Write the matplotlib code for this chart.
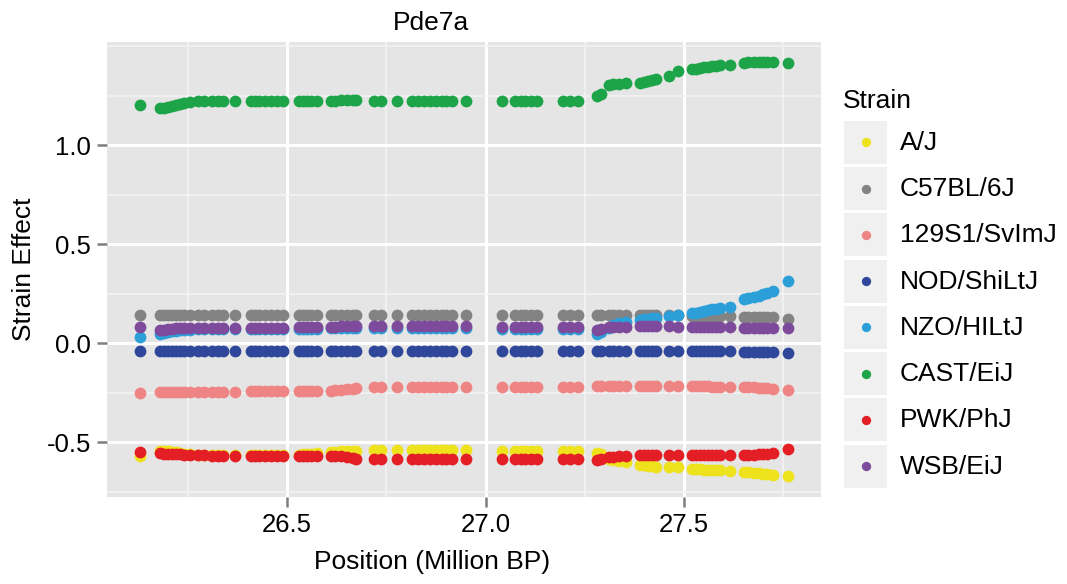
# Pde7a strain effects along the chromosome (ggplot-like look)

import matplotlib
matplotlib.use('Agg')
import matplotlib.pyplot as plt
from matplotlib.ticker import MultipleLocator, FixedLocator
from matplotlib.patches import Rectangle

plt.rcParams['font.family'] = ['Liberation Sans', 'DejaVu Sans']
plt.rcParams['axes.unicode_minus'] = False

# marker positions (Million BP)
position = [26.13,
            26.18, 26.19, 26.20, 26.21, 26.22, 26.23, 26.24, 26.255, 26.275, 26.29, 26.31, 26.325, 26.34,
            26.37,
            26.41, 26.42, 26.43, 26.445, 26.46, 26.475, 26.49,
            26.53, 26.54, 26.55, 26.56, 26.575,
            26.61, 26.62, 26.635, 26.65, 26.665, 26.675,
            26.72, 26.737,
            26.777,
            26.815, 26.83, 26.845, 26.86, 26.875, 26.89, 26.90, 26.915,
            26.95,
            27.042,
            27.075, 27.09, 27.10, 27.115, 27.13,
            27.195, 27.213, 27.233,
            27.28, 27.29, 27.31, 27.32, 27.335, 27.355,
            27.39, 27.40, 27.41, 27.42, 27.43,
            27.462, 27.485,
            27.52, 27.53, 27.54, 27.55, 27.56, 27.57, 27.58, 27.59,
            27.616,
            27.65, 27.66, 27.675, 27.69, 27.70, 27.71, 27.725,
            27.762]

aj = [-0.567,
      -0.542, -0.543, -0.544, -0.546, -0.548, -0.552, -0.556, -0.560, -0.562, -0.562, -0.562, -0.562, -0.562,
      -0.562,
      -0.562, -0.562, -0.562, -0.562, -0.562, -0.562, -0.562,
      -0.561, -0.560, -0.558, -0.556, -0.553,
      -0.549, -0.546, -0.545, -0.544, -0.543, -0.542,
      -0.540, -0.540,
      -0.540,
      -0.540, -0.540, -0.540, -0.540, -0.540, -0.540, -0.540, -0.540,
      -0.540,
      -0.542,
      -0.542, -0.542, -0.542, -0.542, -0.542,
      -0.542, -0.542, -0.542,
      -0.552, -0.560, -0.585, -0.590, -0.593, -0.597,
      -0.612, -0.615, -0.618, -0.620, -0.622,
      -0.623, -0.625,
      -0.632, -0.634, -0.636, -0.637, -0.638, -0.639, -0.640, -0.640,
      -0.642,
      -0.648, -0.650, -0.653, -0.656, -0.659, -0.661, -0.663,
      -0.668]

c57 = [0.144,
       0.144, 0.144, 0.144, 0.144, 0.144, 0.144, 0.144, 0.144, 0.144, 0.144, 0.144, 0.144, 0.144,
       0.144,
       0.144, 0.144, 0.144, 0.144, 0.144, 0.144, 0.144,
       0.144, 0.144, 0.144, 0.144, 0.144,
       0.144, 0.144, 0.144, 0.144, 0.144, 0.144,
       0.144, 0.144,
       0.144,
       0.144, 0.144, 0.144, 0.144, 0.144, 0.144, 0.144, 0.144,
       0.144,
       0.144,
       0.144, 0.144, 0.144, 0.144, 0.144,
       0.144, 0.144, 0.144,
       0.144, 0.144, 0.144, 0.144, 0.144, 0.144,
       0.144, 0.144, 0.144, 0.144, 0.144,
       0.143, 0.142,
       0.141, 0.141, 0.140, 0.140, 0.139, 0.139, 0.138, 0.138,
       0.137,
       0.136, 0.136, 0.135, 0.135, 0.135, 0.134, 0.134,
       0.125]

s129 = [-0.252,
        -0.247, -0.246, -0.246, -0.245, -0.245, -0.244, -0.244, -0.243, -0.243, -0.243, -0.243, -0.243, -0.243,
        -0.243,
        -0.242, -0.242, -0.242, -0.242, -0.242, -0.242, -0.242,
        -0.241, -0.241, -0.240, -0.240, -0.239,
        -0.238, -0.236, -0.234, -0.232, -0.229, -0.226,
        -0.220, -0.218,
        -0.218,
        -0.218, -0.218, -0.218, -0.218, -0.218, -0.218, -0.218, -0.218,
        -0.218,
        -0.218,
        -0.218, -0.218, -0.218, -0.218, -0.218,
        -0.218, -0.218, -0.218,
        -0.215, -0.215, -0.215, -0.215, -0.215, -0.215,
        -0.215, -0.215, -0.215, -0.215, -0.215,
        -0.215, -0.216,
        -0.216, -0.216, -0.217, -0.217, -0.217, -0.218, -0.218, -0.218,
        -0.219,
        -0.220, -0.221, -0.222, -0.223, -0.224, -0.226, -0.228,
        -0.235]

nod = [-0.038,
       -0.038, -0.038, -0.038, -0.038, -0.038, -0.038, -0.038, -0.038, -0.038, -0.038, -0.038, -0.038, -0.038,
       -0.038,
       -0.038, -0.038, -0.038, -0.038, -0.038, -0.038, -0.038,
       -0.038, -0.038, -0.038, -0.038, -0.038,
       -0.038, -0.038, -0.038, -0.038, -0.038, -0.038,
       -0.038, -0.038,
       -0.038,
       -0.038, -0.038, -0.038, -0.038, -0.038, -0.038, -0.038, -0.038,
       -0.038,
       -0.040,
       -0.040, -0.040, -0.040, -0.040, -0.040,
       -0.040, -0.040, -0.040,
       -0.040, -0.040, -0.040, -0.040, -0.040, -0.040,
       -0.040, -0.040, -0.040, -0.040, -0.040,
       -0.040, -0.040,
       -0.040, -0.040, -0.040, -0.040, -0.040, -0.040, -0.040, -0.040,
       -0.040,
       -0.042, -0.042, -0.042, -0.042, -0.042, -0.042, -0.042,
       -0.046]

nzo = [0.034,
       0.050, 0.055, 0.060, 0.063, 0.065, 0.067, 0.068, 0.070, 0.071, 0.072, 0.072, 0.072, 0.072,
       0.072,
       0.072, 0.072, 0.072, 0.072, 0.072, 0.072, 0.072,
       0.073, 0.073, 0.074, 0.074, 0.075,
       0.076, 0.077, 0.078, 0.078, 0.078, 0.078,
       0.078, 0.078,
       0.078,
       0.078, 0.078, 0.078, 0.078, 0.078, 0.078, 0.078, 0.078,
       0.078,
       0.075,
       0.075, 0.075, 0.075, 0.075, 0.075,
       0.075, 0.075, 0.075,
       0.050, 0.058, 0.080, 0.095, 0.105, 0.110,
       0.118, 0.121, 0.124, 0.127, 0.130,
       0.138, 0.145,
       0.152, 0.156, 0.160, 0.164, 0.168, 0.172, 0.176, 0.180,
       0.186,
       0.222, 0.228, 0.236, 0.242, 0.248, 0.256, 0.266,
       0.315]

cast = [1.205,
        1.190, 1.190, 1.195, 1.200, 1.205, 1.210, 1.215, 1.220, 1.222, 1.222, 1.222, 1.222, 1.222,
        1.222,
        1.222, 1.222, 1.222, 1.222, 1.222, 1.222, 1.222,
        1.222, 1.222, 1.222, 1.222, 1.222,
        1.224, 1.226, 1.228, 1.229, 1.229, 1.228,
        1.222, 1.222,
        1.222,
        1.222, 1.222, 1.222, 1.222, 1.222, 1.222, 1.222, 1.222,
        1.222,
        1.222,
        1.222, 1.222, 1.222, 1.222, 1.222,
        1.222, 1.222, 1.222,
        1.250, 1.262, 1.305, 1.310, 1.312, 1.317,
        1.314, 1.320, 1.326, 1.332, 1.338,
        1.350, 1.375,
        1.385, 1.388, 1.391, 1.394, 1.397, 1.400, 1.402, 1.404,
        1.405,
        1.418, 1.420, 1.420, 1.421, 1.421, 1.420, 1.420,
        1.415]

pwk = [-0.550,
       -0.555, -0.556, -0.557, -0.558, -0.559, -0.560, -0.561, -0.562, -0.563, -0.565, -0.567, -0.567, -0.567,
       -0.567,
       -0.567, -0.567, -0.567, -0.567, -0.567, -0.567, -0.567,
       -0.567, -0.567, -0.567, -0.567, -0.567,
       -0.567, -0.568, -0.570, -0.573, -0.577, -0.582,
       -0.585, -0.585,
       -0.585,
       -0.585, -0.585, -0.585, -0.585, -0.585, -0.585, -0.585, -0.585,
       -0.585,
       -0.585,
       -0.585, -0.585, -0.585, -0.585, -0.585,
       -0.585, -0.585, -0.585,
       -0.587, -0.584, -0.574, -0.571, -0.568, -0.566,
       -0.565, -0.564, -0.564, -0.563, -0.563,
       -0.563, -0.563,
       -0.563, -0.563, -0.563, -0.563, -0.563, -0.563, -0.563, -0.563,
       -0.563,
       -0.563, -0.563, -0.562, -0.560, -0.558, -0.556, -0.553,
       -0.534]

wsb = [0.085,
       0.068, 0.070, 0.072, 0.074, 0.076, 0.077, 0.078, 0.079, 0.080, 0.080, 0.080, 0.080, 0.080,
       0.080,
       0.080, 0.080, 0.080, 0.080, 0.080, 0.080, 0.080,
       0.081, 0.081, 0.082, 0.082, 0.083,
       0.084, 0.085, 0.086, 0.086, 0.087, 0.087,
       0.088, 0.088,
       0.088,
       0.088, 0.088, 0.088, 0.088, 0.088, 0.088, 0.088, 0.088,
       0.088,
       0.085,
       0.085, 0.085, 0.085, 0.085, 0.085,
       0.085, 0.085, 0.085,
       0.070, 0.074, 0.082, 0.084, 0.085, 0.085,
       0.086, 0.086, 0.087, 0.087, 0.087,
       0.086, 0.085,
       0.084, 0.084, 0.084, 0.083, 0.083, 0.083, 0.083, 0.082,
       0.082,
       0.080, 0.080, 0.080, 0.079, 0.079, 0.078, 0.078,
       0.077]

strains = ['A/J', 'C57BL/6J', '129S1/SvImJ', 'NOD/ShiLtJ', 'NZO/HILtJ', 'CAST/EiJ', 'PWK/PhJ', 'WSB/EiJ']
effects = [aj, c57, s129, nod, nzo, cast, pwk, wsb]
colors = ['#eee21c', '#838383', '#ef8484', '#2f479b', '#2c9fd9', '#1da448', '#e31e25', '#7e4a9c']

for vals in effects:
    assert len(vals) == len(position), len(vals)

W, H = 1067, 584
fig = plt.figure(figsize=(W / 100, H / 100), dpi=100)
ax = fig.add_axes([107 / W, 1 - 496.7 / H, (821 - 107) / W, (496.7 - 41.7) / H])

ax.set_facecolor('#e5e5e5')
for sp in ax.spines.values():
    sp.set_visible(False)

ax.set_xlim(26.0466, 27.845)
ax.set_ylim(-0.774, 1.524)
ax.xaxis.set_major_locator(FixedLocator([26.5, 27.0, 27.5]))
ax.yaxis.set_major_locator(FixedLocator([-0.5, 0.0, 0.5, 1.0]))
ax.xaxis.set_minor_locator(MultipleLocator(0.25))
ax.yaxis.set_minor_locator(MultipleLocator(0.25))
ax.set_xticklabels(['26.5', '27.0', '27.5'])
ax.set_yticklabels(['-0.5', '0.0', '0.5', '1.0'])
ax.grid(which='major', color='white', lw=2.2)
ax.grid(which='minor', color='#f4f4f4', lw=1.1)
ax.set_axisbelow(True)
ax.tick_params(which='major', length=7.5, width=1.8, color='#7f7f7f',
               labelsize=18.5, labelcolor='black', pad=4)
ax.tick_params(which='minor', length=0)

for vals, col in zip(effects, colors):
    ax.scatter(position, vals, s=72, color=col, linewidths=0, zorder=3)

fig.text(431 / W, 1 - 23 / H, 'Pde7a', ha='center', va='center', fontsize=19)
fig.text(432 / W, 1 - 562 / H, 'Position (Million BP)', ha='center', va='center', fontsize=19)
fig.text(24 / W, 1 - 269 / H, 'Strain Effect', ha='center', va='center', rotation=90, fontsize=19)

# legend drawn in pixel space
leg = fig.add_axes([0, 0, 1, 1])
leg.set_xlim(0, W)
leg.set_ylim(H, 0)
leg.axis('off')
leg.text(843, 101, 'Strain', ha='left', va='center', fontsize=19)
for i, (name, col) in enumerate(zip(strains, colors)):
    top = 120.7 + 46.3 * i
    leg.add_patch(Rectangle((844, top), 43, 43, facecolor='#f0f0f0', edgecolor='none'))
    leg.scatter([865.5], [top + 21.5], s=45, color=col, linewidths=0)
    leg.text(900, top + 22, name, ha='left', va='center', fontsize=19)

fig.savefig('out.png', dpi=100)
